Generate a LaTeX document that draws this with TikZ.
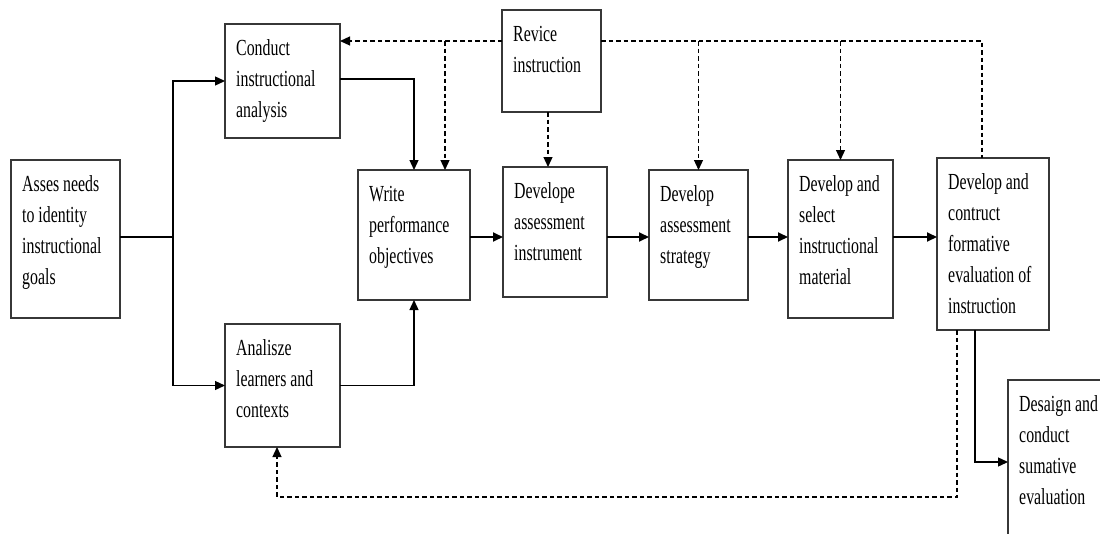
\documentclass[tikz,border=0pt]{standalone}
\usepackage{fontspec}
\setmainfont{Liberation Serif}[FakeStretch=0.69]
\usetikzlibrary{arrows.meta,calc}
\definecolor{boxline}{RGB}{55,55,55}
\begin{document}
\begin{tikzpicture}[x=1pt,y=-1pt,
  box/.style={draw=boxline,line width=1.4pt,anchor=north west,inner sep=0pt,outer sep=0pt},
  txt/.style={font=\fontsize{23}{31}\selectfont,align=left,inner sep=0pt,anchor=north west},
  arr/.style={line width=1.3pt,-{Triangle[length=10pt,width=9pt]}},
  darr/.style={line width=1.2pt,dash pattern=on 4.5pt off 3pt,-{Triangle[length=10pt,width=9pt]}},
  dline/.style={line width=1.2pt,dash pattern=on 4.5pt off 3pt}]
\useasboundingbox (0,0) rectangle (1100,533);
% boxes
\node[box,minimum width=109pt,minimum height=158pt] (A) at (11,160) {};
\node[box,minimum width=115pt,minimum height=114pt] (C) at (225,24) {};
\node[box,minimum width=115pt,minimum height=123pt] (L) at (225,324) {};
\node[box,minimum width=112pt,minimum height=130pt] (W) at (358,170) {};
\node[box,minimum width=99pt,minimum height=102pt] (R) at (502,10) {};
\node[box,minimum width=104pt,minimum height=130pt] (D1) at (503,167) {};
\node[box,minimum width=99pt,minimum height=130pt] (D2) at (649,170) {};
\node[box,minimum width=105pt,minimum height=158pt] (D3) at (788,160) {};
\node[box,minimum width=112pt,minimum height=172pt] (D4) at (937,158) {};
\node[box,minimum width=100pt,minimum height=165pt] (S) at (1008,380) {};
% texts
\node[txt] (AT) at ($(A.north west)+(11,9.3)$) {\strut Asses needs\\to identity\\instructional\\goals};
\node[txt] (CT) at ($(C.north west)+(11,9.3)$) {\strut Conduct\\instructional\\analysis};
\node[txt] (LT) at ($(L.north west)+(11,9.3)$) {\strut Analisze\\learners and\\contexts};
\node[txt] (WT) at ($(W.north west)+(11,9.3)$) {\strut Write\\performance\\objectives};
\node[txt] (RT) at ($(R.north west)+(11,9.3)$) {\strut Revice\\instruction};
\node[txt] (D1T) at ($(D1.north west)+(11,9.3)$) {\strut Develope\\assessment\\instrument};
\node[txt] (D2T) at ($(D2.north west)+(11,9.3)$) {\strut Develop\\assessment\\strategy};
\node[txt] (D3T) at ($(D3.north west)+(11,9.3)$) {\strut Develop and\\select\\instructional\\material};
\node[txt] (D4T) at ($(D4.north west)+(11,9.3)$) {\strut Develop and\\contruct\\formative\\evaluation of\\instruction};
\node[txt] (ST) at ($(S.north west)+(11,9.3)$) {\strut Desaign and\\conduct\\sumative\\evaluation};
% coordinates
\coordinate (row) at (0,237);
\coordinate (top) at (0,41);
\coordinate (J) at (173,237);
\coordinate (k1) at (445,41);
\coordinate (k4) at (982,41);
\coordinate (b1) at (957,497);
\coordinate (b2) at (277,497);
\coordinate (s1) at (975,462);
% solid connectors
\draw[line width=2.4pt] (A.east |- row) -- (J);
\draw[arr] (J) |- (C.west);
\draw[arr] (J) |- (L.west);
\draw[arr] ($(C.east)+(0,-2)$) -| (W.north);
\draw[arr] (L.east) -| (W.south);
\draw[arr,line width=1.8pt] (W.east |- row) -- (D1.west |- row);
\draw[arr,line width=1.8pt] (D1.east |- row) -- (D2.west |- row);
\draw[arr,line width=1.8pt] (D2.east |- row) -- (D3.west |- row);
\draw[arr,line width=1.8pt] (D3.east |- row) -- (D4.west |- row);
\draw[arr] (D4.south -| s1) -- (s1) -- (s1 -| S.west);
% dashed connectors
\draw[darr] (R.west |- top) -- (C.east |- top);
\draw[darr] (k1) -- (k1 |- W.north);
\draw[darr] (R.south -| 548,0) -- (D1.north -| 548,0);
\draw[dline] (R.east |- top) -- (k4) -- (k4 |- D4.north);
\draw[darr] (D2.north |- top) -- (D2.north);
\draw[darr] (D3.north |- top) -- (D3.north);
\draw[darr] (D4.south -| b1) -- (b1) -- (b2) -- (b2 |- L.south);
\end{tikzpicture}
\end{document}
